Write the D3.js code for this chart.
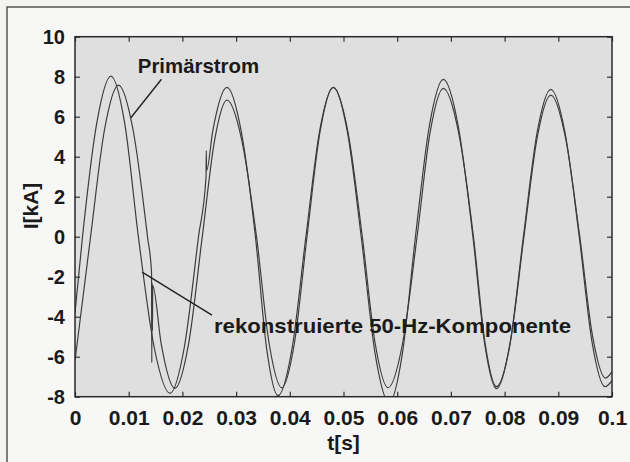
<!DOCTYPE html>
<html><head><meta charset="utf-8">
<script src="https://cdn.jsdelivr.net/npm/d3@7"></script>
<style>
html,body{margin:0;padding:0;background:#f4f4f2;}
svg{display:block;font-family:"Liberation Sans",Arial,Helvetica,sans-serif;font-weight:bold;}
</style></head>
<body>
<svg id="chart" width="630" height="462"></svg>
<script>
// ---------------- data ----------------
const xTicks = [0, 0.01, 0.02, 0.03, 0.04, 0.05, 0.06, 0.07, 0.08, 0.09, 0.1];
const xTickLabels = ["0", "0.01", "0.02", "0.03", "0.04", "0.05", "0.06", "0.07", "0.08", "0.09", "0.1"];
const yTicks = [-8, -6, -4, -2, 0, 2, 4, 6, 8, 10];
const yTickLabels = ["-8", "-6", "-4", "-2", "0", "2", "4", "6", "8", "10"];

// rekonstruierte 50-Hz-Komponente
const tRek = [0, 0.0014, 0.00405, 0.0067, 0.00925, 0.0118, 0.01475, 0.0177, 0.02035, 0.0230,
  0.0244, 0.02445, 0.0245, 0.02565, 0.0283, 0.03095, 0.0336, 0.0357, 0.0378, 0.0404, 0.0430,
  0.04555, 0.0481, 0.0507, 0.0533, 0.0559, 0.0585, 0.06095, 0.0634, 0.066, 0.0686, 0.07135,
  0.0741, 0.0763, 0.0785, 0.081, 0.0835, 0.08605, 0.0886, 0.09125, 0.0939, 0.0963, 0.0987, 0.1];
const iRek = [-3.8, 0, 5.68, 8.03, 5.68, 0, -5.54, -7.83, -5.54, 0,
  3.0, 4.3, 3.3, 5.28, 7.47, 5.28, 0, -5.62, -7.95, -5.62, 0,
  5.28, 7.47, 5.28, 0, -5.87, -8.3, -5.87, 0, 5.56, 7.87, 5.56,
  0, -5.37, -7.6, -5.37, 0, 5.21, 7.37, 5.21, 0, -5.3, -7.5, -7.2];

// Primärstrom
const tPrim = [0, 0.0029, 0.0055, 0.0081, 0.0108, 0.0135, 0.01425, 0.0143, 0.01436, 0.01442, 0.01448,
  0.01605, 0.0186, 0.02115, 0.0237, 0.0260, 0.0283, 0.03105, 0.0338, 0.03615, 0.0385, 0.04085,
  0.0432, 0.04565, 0.0481, 0.0508, 0.0535, 0.0559, 0.0583, 0.061, 0.0637, 0.06615, 0.0686,
  0.0714, 0.0742, 0.07635, 0.0785, 0.08105, 0.0836, 0.0861, 0.0886, 0.0913, 0.094, 0.0964,
  0.0988, 0.1];
const iPrim = [-6.2, 0, 5.36, 7.58, 5.36, 0, -1.75, -6.3, -2.3, -4.7, -2.45,
  -5.36, -7.58, -5.36, 0, 4.83, 6.83, 4.83, 0, -5.34, -7.55, -5.34,
  0, 5.28, 7.47, 5.28, 0, -5.34, -7.55, -5.34, 0, 5.25, 7.42,
  5.25, 0, -5.3, -7.5, -5.3, 0, 5.0, 7.08, 5.0, 0, -5.0,
  -7.07, -6.75];

// annotation labels, anchored in data units
const labelPrim = "Primärstrom";
const labelRek = "rekonstruierte 50-Hz-Komponente";
const pointerPrim = [[0.0161, 7.87], [0.0104, 5.95]];
const pointerRek = [[0.0125, -1.77], [0.0255, -3.92]];
const xTitle = "t[s]";
const yTitle = "I[kA]";

// ---------------- drawing ----------------
const svg = d3.select("#chart");
const L = 75, R = 612, T = 36.7, B = 396.7;
const x = d3.scaleLinear().domain([0, 0.1]).range([L, R]);
const y = d3.scaleLinear().domain([-8, 10]).range([B, T]);

// outer scanned frame
svg.append("rect").attr("x", 0).attr("y", 0).attr("width", 630).attr("height", 462).attr("fill", "#f4f4f2");
svg.append("rect").attr("x", 7).attr("y", 7).attr("width", 640).attr("height", 470)
  .attr("fill", "#f7f7f5").attr("stroke", "#555").attr("stroke-width", 1.5);

// plot background
svg.append("rect").attr("x", L).attr("y", T).attr("width", R - L).attr("height", B - T)
  .attr("fill", "#dfdfdf");

svg.append("clipPath").attr("id", "clip").append("rect")
  .attr("x", L).attr("y", T).attr("width", R - L).attr("height", B - T);

const line = d3.line().x(d => x(d[0])).y(d => y(d[1])).curve(d3.curveMonotoneX);
const g = svg.append("g").attr("clip-path", "url(#clip)");
g.append("path").datum(tRek.map((t, i) => [t, iRek[i]]))
  .attr("d", line).attr("fill", "none").attr("stroke", "#3c3c3c").attr("stroke-width", 1.2);
g.append("path").datum(tPrim.map((t, i) => [t, iPrim[i]]))
  .attr("d", line).attr("fill", "none").attr("stroke", "#3c3c3c").attr("stroke-width", 1.2);

// axes
const fmtX = d => xTickLabels[xTicks.indexOf(d)];
const fmtY = d => yTickLabels[yTicks.indexOf(d)];
const axB = svg.append("g").attr("transform", `translate(0,${B})`)
  .call(d3.axisBottom(x).tickValues(xTicks).tickFormat(fmtX).tickSizeInner(-5).tickSizeOuter(0).tickPadding(13.4));
const axT = svg.append("g").attr("transform", `translate(0,${T})`)
  .call(d3.axisTop(x).tickValues(xTicks).tickFormat("").tickSizeInner(-5).tickSizeOuter(0));
const axL = svg.append("g").attr("transform", `translate(${L},0)`)
  .call(d3.axisLeft(y).tickValues(yTicks).tickFormat(fmtY).tickSizeInner(-5).tickSizeOuter(0).tickPadding(10));
const axR = svg.append("g").attr("transform", `translate(${R},0)`)
  .call(d3.axisRight(y).tickValues(yTicks).tickFormat("").tickSizeInner(-5).tickSizeOuter(0));
[axB, axT, axL, axR].forEach(a => {
  a.select(".domain").remove();
  a.selectAll("line").attr("stroke", "#333").attr("stroke-width", 1.2);
  a.selectAll("text").attr("font-weight", "bold").attr("fill", "#1a1a1a")
    .attr("font-family", "'Liberation Sans', Arial, sans-serif");
});
axB.selectAll("text").attr("font-size", 21);
axL.selectAll("text").attr("font-size", 20);

// plot border
svg.append("rect").attr("x", L).attr("y", T).attr("width", R - L).attr("height", B - T)
  .attr("fill", "none").attr("stroke", "#2a2a2a").attr("stroke-width", 1.5);

// axis titles
svg.append("text").attr("x", (L + R) / 2).attr("y", 450).attr("text-anchor", "middle")
  .attr("font-size", 21).attr("fill", "#1a1a1a").text(xTitle);
svg.append("text").attr("transform", "translate(38,206) rotate(-90)").attr("text-anchor", "middle")
  .attr("font-size", 21).attr("fill", "#1a1a1a").text(yTitle);

// annotations
const pl = d3.line().x(d => x(d[0])).y(d => y(d[1]));
svg.append("path").attr("d", pl(pointerPrim)).attr("stroke", "#222").attr("stroke-width", 1.4).attr("fill", "none");
svg.append("path").attr("d", pl(pointerRek)).attr("stroke", "#222").attr("stroke-width", 1.4).attr("fill", "none");
svg.append("text").attr("x", 137.8).attr("y", 73.3).attr("font-size", 20.4).attr("fill", "#1a1a1a").text(labelPrim);
svg.append("text").attr("x", 214).attr("y", 333.3).attr("font-size", 21).attr("fill", "#1a1a1a")
  .attr("textLength", 357).attr("lengthAdjust", "spacingAndGlyphs").text(labelRek);
</script>
</body></html>
